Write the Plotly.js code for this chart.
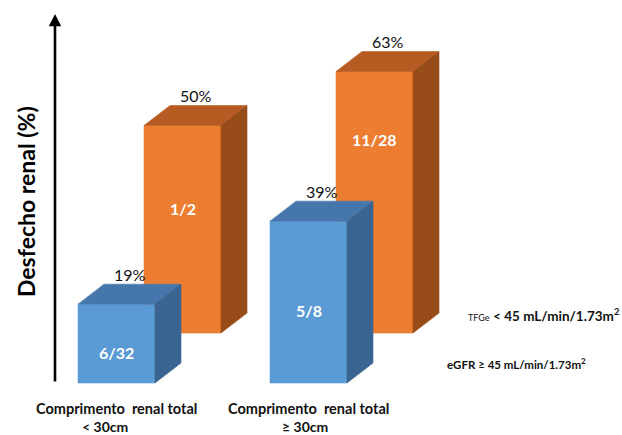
<!DOCTYPE html>
<html>
<head>
<meta charset="utf-8">
<script src="https://cdn.plot.ly/plotly-3.0.1.min.js"></script>
<style>html,body{margin:0;padding:0;background:#fff;}#chart{width:622px;height:435px;}</style>
</head>
<body>
<div id="chart"></div>
<script>
// ---- data ----
const categoryLine1 = ["Comprimento  renal total", "Comprimento  renal total"];
const categoryLine2 = ["< 30cm", "≥ 30cm"];
const blueValues = [19, 39];          // eGFR ≥ 45
const orangeValues = [50, 63];        // TFGe < 45
const blueFractions = ["6/32", "5/8"];
const orangeFractions = ["1/2", "11/28"];
const yAxisTitle = "Desfecho renal (%)";
const orangeLegend = '<span style="font-size:9px;font-weight:normal">TFGe</span> <b>&lt; 45 mL/min/1.73m<sup>2</sup></b>';
const blueLegend = '<b>eGFR ≥ 45 mL/min/1.73m<sup>2</sup></b>';

// ---- style / layout constants ----
const W = 622, H = 435;
const pxPerCat = 192, pxPerPct = 4.15, x0px = 116.5, y0px = 383;
const halfW = 38.5 / pxPerCat;
const depthX = 26 / pxPerCat, depthY = 20 / pxPerPct;
const rowX = 66 / pxPerCat, rowY = 50 / pxPerPct;
const blueLabelFrac = [0.39, 0.45];
const orangeLabelFrac = [0.60, 0.74];
const FONT = "Lato, 'Open Sans', sans-serif";
const colors = {
  blue: {front: "#5B9BD5", top: "#4677AC", side: "#3A6592"},
  orange: {front: "#ED7D31", top: "#B65B22", side: "#984C1A"}
};

function poly(xs, ys, color) {
  return {type: "scatter", mode: "lines", x: xs.concat([xs[0]]), y: ys.concat([ys[0]]),
    fill: "toself", fillcolor: color, line: {color: color, width: 0.6},
    hoverinfo: "skip", showlegend: false};
}
function bar3d(xc, base, top, pal) {
  const l = xc - halfW, r = xc + halfW;
  return [
    poly([l, r, r, l], [base, base, top, top], pal.front),
    poly([l, r, r + depthX, l + depthX], [top, top, top + depthY, top + depthY], pal.top),
    poly([r, r + depthX, r + depthX, r], [base, base + depthY, top + depthY, top], pal.side)
  ];
}

const traces = [];
const annotations = [];
function addSeries(values, fracs, labelFrac, pal, dx, dy) {
  values.forEach((v, i) => {
    const xc = i + dx, base = dy, top = dy + v;
    traces.push(...bar3d(xc, base, top, pal));
    annotations.push({x: xc, y: base + v * labelFrac[i], xref: "x", yref: "y", text: "<b>" + fracs[i] + "</b>",
      showarrow: false, xanchor: "center", yanchor: "middle", font: {family: FONT, size: 16, color: "#ffffff"}});
    annotations.push({x: xc + depthX / 2, y: top + depthY, xref: "x", yref: "y", text: v + "%",
      showarrow: false, xanchor: "center", yanchor: "middle", yshift: 10, font: {family: FONT, size: 16, color: "#111"}});
  });
}
// back row first, then front row
addSeries(orangeValues, orangeFractions, orangeLabelFrac, colors.orange, rowX, rowY);
addSeries(blueValues, blueFractions, blueLabelFrac, colors.blue, 0, 0);

// category labels
categoryLine1.forEach((t, i) => {
  annotations.push({x: i, y: 0, xref: "x", yref: "y", yshift: -25, xanchor: "center", yanchor: "middle",
    text: "<b>" + t.replace(/  /g, " &nbsp;") + "</b>",
    showarrow: false, font: {family: FONT, size: 14.5, color: "#111"}});
  annotations.push({x: i, y: 0, xref: "x", yref: "y", yshift: -43, xshift: i === 0 ? -12 : -4,
    xanchor: "center", yanchor: "middle",
    text: "<b>" + categoryLine2[i].replace("<", "&lt;") + "</b>",
    showarrow: false, font: {family: FONT, size: 14, color: "#111"}});
});

// axis arrow
annotations.push({x: (55 - x0px) / pxPerCat, y: (y0px - 14) / pxPerPct, xref: "x", yref: "y",
  ax: (55 - x0px) / pxPerCat, ay: 0, axref: "x", ayref: "y", text: "", showarrow: true,
  arrowhead: 2, arrowsize: 0.95, arrowwidth: 2.6, arrowcolor: "#000", standoff: 0, startstandoff: 0});
// y title
annotations.push({x: 26 / W, y: 1 - 202 / H, xref: "paper", yref: "paper", xanchor: "center", yanchor: "middle",
  text: "<b>" + yAxisTitle + "</b>",
  textangle: -90, showarrow: false, font: {family: FONT, size: 23, color: "#000"}});
// legend texts
annotations.push({x: 1, y: 1 - 315 / H, xref: "paper", yref: "paper", xanchor: "right", yanchor: "middle",
  text: orangeLegend, showarrow: false, font: {family: FONT, size: 13.5, color: "#111"}});
annotations.push({x: 445 / W, y: 1 - 363 / H, xref: "paper", yref: "paper", xanchor: "left", yanchor: "middle",
  text: blueLegend, showarrow: false, font: {family: FONT, size: 11.5, color: "#111"}});

const layout = {
  width: W, height: H, margin: {l: 0, r: 0, t: 0, b: 0},
  paper_bgcolor: "#fff", plot_bgcolor: "#fff", showlegend: false,
  xaxis: {range: [-x0px / pxPerCat, (W - x0px) / pxPerCat], visible: false, fixedrange: true},
  yaxis: {range: [(y0px - H) / pxPerPct, y0px / pxPerPct], visible: false, fixedrange: true},
  annotations: annotations
};
Plotly.newPlot("chart", traces, layout, {displayModeBar: false, staticPlot: true});
</script>
</body>
</html>
